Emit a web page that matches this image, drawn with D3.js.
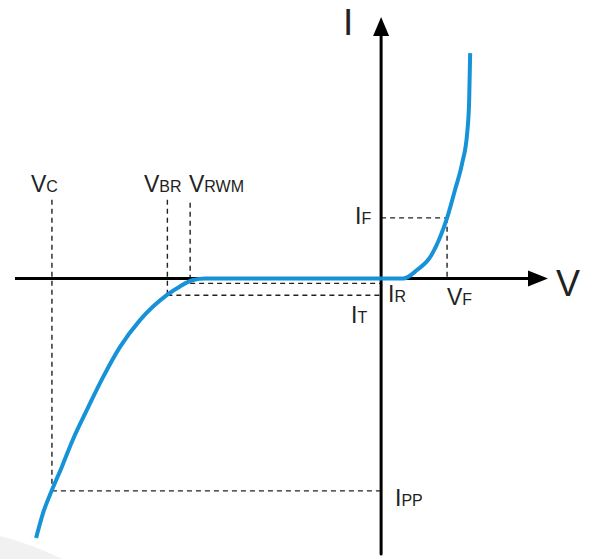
<!DOCTYPE html>
<html>
<head>
<meta charset="UTF-8">
<title>TVS I-V</title>
<script src="https://cdn.jsdelivr.net/npm/d3@7/dist/d3.min.js"></script>
<style>
  body { margin: 0; background: #fff; }
  text { font-family: "Liberation Sans", Arial, sans-serif; fill: #222; }
</style>
</head>
<body>
<script>
// curve points (V, I) in arbitrary units
var forwardV = [0, 0.67, 1.09, 1.49, 1.79, 2.0, 2.24, 2.46, 2.61, 2.67, 2.70];
var forwardI = [0, 0, 0.28, 0.71, 1.37, 2.0, 2.92, 3.81, 4.80, 5.88, 7.43];
var reverseV = [-10.46, -10.25, -9.98, -9.68, -9.35, -8.92, -8.43, -7.92, -7.31, -6.49, -6.10, -5.70, -5.34, 0];
var reverseI = [-8.55, -7.73, -6.97, -6.21, -5.32, -4.33, -3.25, -2.26, -1.37, -0.54, -0.26, -0.05, 0, 0];

// key voltages / currents
var VC = -9.98, VBR = -6.48, VRWM = -5.79, VF = 2.0;
var IF = 2.0, IR = -0.16, IT = -0.55, IPP = -7.0;

var width = 589, height = 559;

var x = d3.scaleLinear().domain([-11.1, 5.06]).range([15, 548]);
var y = d3.scaleLinear().domain([-9.08, 8.62]).range([554, 17]);

var svg = d3.select("body").append("svg")
    .attr("width", width)
    .attr("height", height);

// faint background corner
svg.append("path")
    .attr("d", "M0,536 Q32,544 62,559 L0,559 Z")
    .attr("fill", "#f1f1f1");

// dashed guides
var dashes = [
  [VC, 2.6, VC, IPP],
  [VBR, 2.6, VBR, IT],
  [VRWM, 2.5, VRWM, 0],
  [VRWM, IR, 0, IR],
  [VBR, IT, 0, IT],
  [0, IF, VF, IF],
  [VF, IF, VF, 0],
  [VC, IPP, 0, IPP]
];
svg.append("g").selectAll("line")
    .data(dashes)
    .enter()
    .append("line")
    .attr("x1", function(d){return x(d[0]);})
    .attr("y1", function(d){return y(d[1]);})
    .attr("x2", function(d){return x(d[2]);})
    .attr("y2", function(d){return y(d[3]);})
    .attr("stroke", "#222")
    .attr("stroke-width", 1.4)
    .attr("stroke-dasharray", "5,4");

// axes
var ax = svg.append("g");
ax.append("line")
    .attr("x1", x(-11.1)).attr("y1", y(0))
    .attr("x2", x(4.5)).attr("y2", y(0))
    .attr("stroke", "#000").attr("stroke-width", 3);
ax.append("line")
    .attr("x1", x(0)).attr("y1", y(-9.08))
    .attr("x2", x(0)).attr("y2", y(8.0))
    .attr("stroke", "#000").attr("stroke-width", 3).attr("stroke-linecap", "round");
ax.append("path")
    .attr("d", "M" + x(5.06) + "," + y(0) + " L" + (x(5.06) - 20) + "," + (y(0) - 8) + " L" + (x(5.06) - 20) + "," + (y(0) + 8) + " Z")
    .attr("fill", "#000");
ax.append("path")
    .attr("d", "M" + x(0) + "," + y(8.62) + " L" + (x(0) - 8) + "," + (y(8.62) + 19) + " L" + (x(0) + 8) + "," + (y(8.62) + 19) + " Z")
    .attr("fill", "#000");

// curve
var line = d3.line()
    .x(function(d){return x(d[0]);})
    .y(function(d){return y(d[1]);})
    .curve(d3.curveMonotoneX);

var fwd = forwardV.map(function(v, i){return [v, forwardI[i]];});
var rev = reverseV.map(function(v, i){return [v, reverseI[i]];});

svg.append("path").datum(rev)
    .attr("d", line)
    .attr("fill", "none")
    .attr("stroke", "#1592d8")
    .attr("stroke-width", 4);
svg.append("path").datum(fwd)
    .attr("d", line)
    .attr("fill", "none")
    .attr("stroke", "#1592d8")
    .attr("stroke-width", 4);

// axis titles
svg.append("text").attr("x", 343).attr("y", 35)
    .attr("font-size", 37).text("I");
svg.append("text").attr("x", 556).attr("y", 296)
    .attr("font-size", 36).text("V");

// labels: main letter + subscript
var labels = [
  ["V", "C", 31, 192],
  ["V", "BR", 144, 192],
  ["V", "RWM", 189, 192],
  ["I", "F", 355, 224],
  ["I", "R", 388, 302],
  ["V", "F", 447, 305],
  ["I", "T", 351, 323],
  ["I", "PP", 395, 506]
];
var lab = svg.append("g").selectAll("text")
    .data(labels)
    .enter()
    .append("text")
    .attr("x", function(d){return d[2];})
    .attr("y", function(d){return d[3];});
lab.append("tspan").attr("font-size", 23).text(function(d){return d[0];});
lab.append("tspan").attr("font-size", 16).text(function(d){return d[1];});
</script>
</body>
</html>
